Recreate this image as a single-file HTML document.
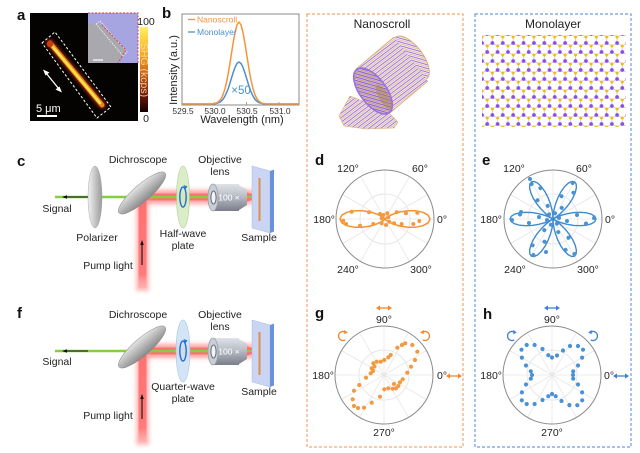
<!DOCTYPE html>
<html><head><meta charset="utf-8"><style>
html,body{margin:0;padding:0;background:#fff;}
svg{display:block;}
text{font-family:"Liberation Sans",Arial,sans-serif;}
</style></head><body>
<svg width="640" height="453" viewBox="0 0 640 453" xmlns="http://www.w3.org/2000/svg">
<defs>
<linearGradient id="cb" x1="0" y1="0" x2="0" y2="1">
<stop offset="0" stop-color="#fff060"/><stop offset=".3" stop-color="#f8b020"/><stop offset=".55" stop-color="#d06010"/><stop offset=".8" stop-color="#701808"/><stop offset="1" stop-color="#100000"/>
</linearGradient>
<linearGradient id="pg" x1="0" y1="0" x2="1" y2="0"><stop offset="0" stop-color="#f2f2f2"/><stop offset="1" stop-color="#9a9a9a"/></linearGradient>
<linearGradient id="mg" x1="0" y1="0" x2="0" y2="1"><stop offset="0" stop-color="#e4e4e4"/><stop offset="1" stop-color="#888"/></linearGradient>
<linearGradient id="og" x1="0" y1="0" x2="0" y2="1"><stop offset="0" stop-color="#dfe2e8"/><stop offset=".5" stop-color="#b4b8c2"/><stop offset="1" stop-color="#7a7e8a"/></linearGradient>
<linearGradient id="vb" x1="0" y1="0" x2="0" y2="1"><stop offset="0" stop-color="#ff7070"/><stop offset=".85" stop-color="#ff7a7a"/><stop offset="1" stop-color="#ff9a9a" stop-opacity="0.3"/></linearGradient>
<filter id="bl" x="-50%" y="-50%" width="200%" height="200%"><feGaussianBlur stdDeviation="2"/></filter>
<filter id="bl1" x="-50%" y="-50%" width="200%" height="200%"><feGaussianBlur stdDeviation="1"/></filter>
<pattern id="scr" patternUnits="userSpaceOnUse" width="3.6" height="3.6" patternTransform="rotate(-37)">
<rect width="3.6" height="3.6" fill="#f1e8f1"/><rect y="0" width="3.6" height="0.9" fill="#9a70dc"/><rect y="1.9" width="3.6" height="0.6" fill="#dcae68"/>
</pattern>
<pattern id="scr2" patternUnits="userSpaceOnUse" width="3.2" height="3.2" patternTransform="rotate(-37)">
<rect width="3.2" height="3.2" fill="#d9c4e2"/><rect width="3.2" height="1" fill="#8a5ad0"/><rect y="1.7" width="3.2" height="0.7" fill="#c0924e"/>
</pattern>
<pattern id="lat" patternUnits="userSpaceOnUse" x="482" y="31" width="10.392" height="18">
<g stroke="#bfb0dc" stroke-width="0.7">
<line x1="0" y1="6" x2="0" y2="12"/><line x1="10.392" y1="6" x2="10.392" y2="12"/>
<line x1="5.196" y1="15" x2="5.196" y2="18"/><line x1="5.196" y1="0" x2="5.196" y2="3"/>
<line x1="5.196" y1="3" x2="0" y2="6"/><line x1="5.196" y1="3" x2="10.392" y2="6"/>
<line x1="0" y1="12" x2="5.196" y2="15"/><line x1="10.392" y1="12" x2="5.196" y2="15"/>
</g>
<circle cx="0" cy="6" r="1.5" fill="#f0c000"/><circle cx="10.392" cy="6" r="1.5" fill="#f0c000"/>
<circle cx="5.196" cy="15" r="1.5" fill="#f0c000"/>
<circle cx="0" cy="12" r="1.9" fill="#8b4fe0"/><circle cx="10.392" cy="12" r="1.9" fill="#8b4fe0"/>
<circle cx="5.196" cy="3" r="1.9" fill="#8b4fe0"/>
</pattern>
<g id="grid">
<circle r="25" fill="none" stroke="#e2e2e2" stroke-width="0.8"/>
<path d="M-49 0H49M0 -49V49M42.4 -24.5L-42.4 24.5M24.5 -42.4L-24.5 42.4M-24.5 -42.4L24.5 42.4M-42.4 -24.5L42.4 24.5" stroke="#e6e6e6" stroke-width="0.8"/>
<circle r="49" fill="none" stroke="#8a8a8a" stroke-width="1"/>
</g>
<path id="petal" fill="none" stroke-linejoin="round" d="M0,0 L0.94,-0.55 L3.75,-1.92 L8.27,-3.66 L14.13,-5.28 L20.77,-6.39 L27.53,-6.73 L33.72,-6.14 L38.68,-4.68 L41.89,-2.53 L43,0 L41.89,2.53 L38.68,4.68 L33.72,6.14 L27.53,6.73 L20.77,6.39 L14.13,5.28 L8.27,3.66 L3.75,1.92 L0.94,0.55 Z"/>
<g id="pp"><circle cx="41" cy="-1" r="2"/><circle cx="33" cy="4.5" r="2"/><circle cx="24" cy="-4" r="2"/><circle cx="14" cy="2" r="2"/><circle cx="6" cy="-1" r="2"/></g>
<g id="dbl"><line x1="-5" y1="0" x2="5" y2="0" stroke="currentColor" stroke-width="1.3"/><polygon points="-8,0 -4,-2.6 -4,2.6" fill="currentColor"/><polygon points="8,0 4,-2.6 4,2.6" fill="currentColor"/></g>
<g id="circ"><path d="M2.3,-3.9 A4.5,4.5 0 1 0 2.3,3.9" fill="none" stroke="currentColor" stroke-width="1.3"/><polygon points="4.8,-3.6 1.2,-6 1.4,-1.6" fill="currentColor"/></g>

<g id="setup">
<rect x="140" y="190" width="113" height="14" fill="#ff9090" filter="url(#bl)" opacity="0.8"/>
<rect x="140" y="193.5" width="113" height="7" fill="#ff7070"/>
<rect x="136" y="195" width="13" height="96" fill="#ff9a9a" filter="url(#bl)" opacity="0.7"/>
<rect x="138.5" y="195" width="8" height="93" fill="url(#vb)"/>
<line x1="55" y1="197" x2="212" y2="197" stroke="#84cf3e" stroke-width="2.6"/>
<line x1="88" y1="197" x2="66" y2="197" stroke="#111" stroke-width="1.1"/>
<polygon points="62,197 67,195.2 67,198.8" fill="#111"/>
<line x1="142" y1="265" x2="142" y2="245" stroke="#111" stroke-width="1.1"/>
<polygon points="142,240 140.2,245 143.8,245" fill="#111"/>
<ellipse cx="142" cy="193" rx="30.5" ry="8.5" transform="rotate(-41 142 193)" fill="url(#mg)" stroke="#8a8a8a" stroke-width="0.5"/>
<rect x="213" y="184" width="26" height="27" fill="url(#og)"/>
<path d="M239,185 L247,189.5 L247,205 L239,210 Z" fill="url(#og)"/>
<ellipse cx="213" cy="197.5" rx="5" ry="13.5" fill="#c9cdd5" stroke="#9aa0aa" stroke-width="0.8"/>
<ellipse cx="213.5" cy="197.5" rx="2.6" ry="6.5" fill="#f4f4f6" stroke="#6e7280" stroke-width="1.1"/>
<text x="229" y="200.5" font-size="8.5" fill="#fff" text-anchor="middle">100 ×</text>
<polygon points="247,192.5 258,196 258,198 247,201.5" fill="#ff7070"/>
<line x1="247" y1="197" x2="258" y2="197" stroke="#84cf3e" stroke-width="2"/>
<polygon points="252,166 270,171 270,233 252,228" fill="#c9d5f2" stroke="#a9b9e0" stroke-width="0.5"/>
<polygon points="270,171 274,169.5 274,231.5 270,233" fill="#6a92da"/>
<line x1="259.5" y1="178" x2="259.5" y2="221" stroke="#e08c4c" stroke-width="2"/>
</g>
</defs>
<rect width="640" height="453" fill="#fff"/>

<!-- dashed boxes -->
<rect x="307" y="14" width="156" height="433" fill="none" stroke="#f4a675" stroke-width="1.2" stroke-dasharray="3,2"/>
<rect x="475" y="14" width="156" height="433" fill="none" stroke="#6f9be0" stroke-width="1.2" stroke-dasharray="3,2"/>

<!-- panel a -->
<text x="17" y="20" font-size="15" font-weight="bold" fill="#111">a</text>
<rect x="30" y="13" width="108" height="108" fill="#050202"/>
<g stroke-linecap="round">
<line x1="50" y1="43" x2="102" y2="105" stroke="#8a2008" stroke-width="9" opacity="0.7" filter="url(#bl1)"/>
<line x1="50" y1="43" x2="102" y2="105" stroke="#e88418" stroke-width="5"/>
<line x1="53" y1="47" x2="100" y2="103" stroke="#ffe24a" stroke-width="2.6"/>
<circle cx="50" cy="44" r="3.2" fill="#c84010"/>
</g>
<polygon points="42,43 55,32 111,107 97,118" fill="none" stroke="#fff" stroke-width="1" stroke-dasharray="2.5,2"/>
<line x1="46" y1="73" x2="59" y2="89" stroke="#fff" stroke-width="1.3"/>
<polygon points="43,69.5 49.5,72.5 45.5,75.5" fill="#fff"/>
<polygon points="62,92.5 55.5,89.5 59.5,86.5" fill="#fff"/>
<text x="36" y="112" font-size="11" fill="#fff">5 μm</text>
<rect x="37" y="115" width="20" height="2" fill="#fff"/>
<rect x="88" y="13" width="50" height="50" fill="#a7a4e2"/>
<polygon points="88,24 100,23 126,50 118,63 88,63" fill="#a8a8ae"/>
<polygon points="96,24 100,21 127,52 123,56" fill="none" stroke="#fff" stroke-width="0.7" stroke-dasharray="1.5,1"/>
<polyline points="88,13 138,13 138,63" fill="none" stroke="#e03030" stroke-width="0.9" stroke-dasharray="2,1.5"/>
<polyline points="102,25 126,50 118,63" fill="none" stroke="#e03030" stroke-width="0.9" stroke-dasharray="2,1.5"/>
<line x1="93" y1="60" x2="103" y2="60" stroke="#fff" stroke-width="1.2"/>
<rect x="140" y="27" width="8" height="85" fill="url(#cb)"/>
<text x="146" y="25" font-size="10.5" fill="#222" text-anchor="middle">100</text>
<text x="146" y="122" font-size="10.5" fill="#222" text-anchor="middle">0</text>
<text transform="translate(141,70) rotate(90)" font-size="10.5" fill="#f6dcb8" text-anchor="middle" opacity="0.9">SHG (kcps)</text>

<!-- panel b -->
<text x="162" y="18" font-size="15" font-weight="bold" fill="#111">b</text>
<rect x="182" y="14" width="117" height="91" fill="none" stroke="#8a8a8a" stroke-width="1"/>
<g stroke="#8a8a8a" stroke-width="0.8">
<line x1="214.3" y1="105" x2="214.3" y2="102"/><line x1="246.6" y1="105" x2="246.6" y2="102"/><line x1="278.9" y1="105" x2="278.9" y2="102"/>
</g>
<polyline fill="none" stroke="#4a8fd2" stroke-width="1.5" stroke-linejoin="round" points="182,104 213,103.9 215,103.7 217,103.3 219,102.6 221,101.4 223,99.3 225,96.1 227,91.7 229,86.2 231,79.7 233,73.1 235,67.4 237,63.4 239,62 241,63.4 243,67.4 245,73.1 247,79.7 249,86.2 251,91.7 253,96.1 255,99.3 257,101.4 259,102.6 261,103.3 263,103.7 265,103.9 299,104"/>
<polyline fill="none" stroke="#f5953a" stroke-width="1.5" stroke-linejoin="round" points="182,104 211,103.9 213,103.7 215,103.4 217,102.7 219,101.3 221,98.9 223,94.8 225,88.7 227,80.1 229,69.1 231,56.5 233,43.7 235,32.5 237,24.8 239,22 241,24.8 243,32.5 245,43.7 247,56.5 249,69.1 251,80.1 253,88.7 255,94.8 257,98.9 259,101.3 261,102.7 263,103.4 265,103.7 267,103.9 299,104"/>
<line x1="188" y1="19.5" x2="195" y2="19.5" stroke="#f5953a" stroke-width="1.3"/>
<text x="197" y="22.5" font-size="8.5" fill="#f5953a">Nanoscroll</text>
<line x1="188" y1="32" x2="195" y2="32" stroke="#4a8fd2" stroke-width="1.3"/>
<text x="197" y="35" font-size="8.5" fill="#4a8fd2">Monolayer</text>
<text x="241" y="94" font-size="11.5" fill="#4a8fd2" text-anchor="middle">×50</text>
<g font-size="8.5" fill="#333" text-anchor="middle">
<text x="183" y="114">529.5</text><text x="215" y="114">530.0</text><text x="247" y="114">530.5</text><text x="280" y="114">531.0</text>
</g>
<text x="242" y="123" font-size="11" fill="#222" text-anchor="middle">Wavelength (nm)</text>
<text transform="translate(177,70) rotate(-90)" font-size="11" fill="#222" text-anchor="middle">Intensity (a.u.)</text>

<!-- titles -->
<text x="382" y="28" font-size="12" fill="#222" text-anchor="middle">Nanoscroll</text>
<text x="553" y="28" font-size="12" fill="#222" text-anchor="middle">Monolayer</text>

<!-- nanoscroll -->
<g>
<polygon points="350,96 386,110 398,122 394,128 366,129 344,126 339,116" fill="url(#scr)" stroke="#e0b070" stroke-width="0.6"/>
<ellipse cx="411" cy="58" rx="26" ry="12" transform="rotate(53 411 58)" fill="url(#scr)" stroke="#d9a86a" stroke-width="0.8"/>
<polygon points="356,69 394,37 428,81 390,113" fill="url(#scr)"/>
<line x1="394" y1="37" x2="356" y2="69" stroke="#d9a86a" stroke-width="0.8"/>
<line x1="428" y1="81" x2="390" y2="113" stroke="#d9a86a" stroke-width="0.8"/>
<ellipse cx="373" cy="91" rx="27" ry="13" transform="rotate(53 373 91)" fill="url(#scr2)" stroke="#9a70e0" stroke-width="1.6"/>
<ellipse cx="384" cy="97" rx="14" ry="5" transform="rotate(60 384 97)" fill="#a98050" opacity="0.45"/>
</g>

<!-- monolayer -->
<rect x="482" y="35" width="144" height="92" fill="url(#lat)"/>

<!-- panel c -->
<text x="17" y="166" font-size="15" font-weight="bold" fill="#111">c</text>
<use href="#setup"/>
<ellipse cx="95" cy="197" rx="7" ry="31" fill="url(#pg)" stroke="#999" stroke-width="0.4"/>
<ellipse cx="183" cy="197" rx="6.5" ry="31" fill="#d7ecc4" stroke="#a9cc8c" stroke-width="0.6" opacity="0.92"/>
<ellipse cx="183" cy="197" rx="3.2" ry="10" fill="none" stroke="#1f6fd0" stroke-width="1.4"/>
<polygon points="185.5,189 183.5,185 187.5,186.5" fill="#1f6fd0"/>
<g font-size="10.5" fill="#222" text-anchor="middle">
<text x="138" y="163">Dichroscope</text>
<text x="220" y="163">Objective</text><text x="220" y="175">lens</text>
<text x="57" y="212">Signal</text>
<text x="97" y="241">Polarizer</text>
<text x="183" y="237">Half-wave</text><text x="183" y="249">plate</text>
<text x="259" y="241">Sample</text>
<text x="108" y="269">Pump light</text>
</g>

<!-- panel f -->
<text x="17" y="318" font-size="15" font-weight="bold" fill="#111">f</text>
<use href="#setup" transform="translate(0,154)"/>
<ellipse cx="183" cy="351" rx="7" ry="31" fill="#cfe2f5" stroke="#9fc0e4" stroke-width="0.6" opacity="0.92"/>
<ellipse cx="183" cy="351" rx="3.2" ry="10" fill="none" stroke="#1f6fd0" stroke-width="1.4"/>
<polygon points="185.5,343 183.5,339 187.5,340.5" fill="#1f6fd0"/>
<g font-size="10.5" fill="#222" text-anchor="middle">
<text x="138" y="318">Dichroscope</text>
<text x="220" y="318">Objective</text><text x="220" y="330">lens</text>
<text x="57" y="365">Signal</text>
<text x="183" y="390">Quarter-wave</text><text x="183" y="402">plate</text>
<text x="259" y="395">Sample</text>
<text x="108" y="419">Pump light</text>
</g>

<!-- panel d -->
<text x="315" y="165" font-size="15" font-weight="bold" fill="#111">d</text>
<use href="#grid" transform="translate(385,219)"/>
<g transform="translate(385,219)">
<path fill="none" stroke="#f5932e" stroke-width="1.5" stroke-linejoin="round" d="M0,0 L1,-1 L2.4,-2 L5,-3.5 L9.25,-5.3 L15.25,-7.1 L22.7,-8.3 L30.7,-8.2 L38,-6.7 L43.2,-3.8 L45,0 L43.2,3.8 L38,6.7 L30.7,8.2 L22.7,8.3 L15.25,7.1 L9.25,5.3 L5,3.5 L2.4,2 L1,1 Z M0,0 L-1,-1 L-2.4,-2 L-5,-3.5 L-9.25,-5.3 L-15.25,-7.1 L-22.7,-8.3 L-30.7,-8.2 L-38,-6.7 L-43.2,-3.8 L-45,0 L-43.2,3.8 L-38,6.7 L-30.7,8.2 L-22.7,8.3 L-15.25,7.1 L-9.25,5.3 L-5,3.5 L-2.4,2 L-1,1 Z"/>
<g fill="#f39a3e">
<circle cx="-33.3" cy="-7.3" r="2"/><circle cx="-16" cy="-6.7" r="2"/><circle cx="-41.7" cy="1.7" r="2"/><circle cx="-39" cy="5" r="2"/>
<circle cx="-25" cy="6.7" r="2"/><circle cx="-11.7" cy="5" r="2"/><circle cx="-5" cy="-5" r="2"/><circle cx="-1.7" cy="-4" r="2"/>
<circle cx="2.3" cy="-5.7" r="2"/><circle cx="-3.3" cy="4.3" r="2"/><circle cx="1" cy="6" r="2"/><circle cx="4.3" cy="2.7" r="2"/>
<circle cx="11.7" cy="-6.7" r="2"/><circle cx="21" cy="-5.7" r="2"/><circle cx="32.3" cy="-6.3" r="2"/><circle cx="34.3" cy="2" r="2"/>
<circle cx="28.3" cy="5" r="2"/><circle cx="16.7" cy="5" r="2"/><circle cx="9" cy="4.3" r="2"/><circle cx="-3.3" cy="-0.7" r="2"/><circle cx="3.3" cy="-1.7" r="2"/>
</g>
</g>
<g font-size="10.5" fill="#222">
<text x="348" y="172" text-anchor="middle">120°</text><text x="420" y="172" text-anchor="middle">60°</text>
<text x="335" y="223" text-anchor="end">180°</text><text x="437" y="223">0°</text>
<text x="348" y="273" text-anchor="middle">240°</text><text x="421" y="273" text-anchor="middle">300°</text>
</g>

<!-- panel e -->
<text x="482" y="165" font-size="15" font-weight="bold" fill="#111">e</text>
<use href="#grid" transform="translate(553,219)"/>
<g stroke="#3d8bd0" stroke-width="1.4">
<use href="#petal" transform="translate(553,219)"/>
<use href="#petal" transform="translate(553,219) rotate(-60)"/>
<use href="#petal" transform="translate(553,219) rotate(-120)"/>
<use href="#petal" transform="translate(553,219) rotate(-180)"/>
<use href="#petal" transform="translate(553,219) rotate(-240)"/>
<use href="#petal" transform="translate(553,219) rotate(-300)"/>
</g>
<g fill="#4a92d4">
<use href="#pp" transform="translate(553,219)"/>
<use href="#pp" transform="translate(553,219) rotate(-60)"/>
<use href="#pp" transform="translate(553,219) rotate(-120)"/>
<use href="#pp" transform="translate(553,219) rotate(-180)"/>
<use href="#pp" transform="translate(553,219) rotate(-240)"/>
<use href="#pp" transform="translate(553,219) rotate(-300)"/>
<circle cx="530" cy="179" r="2"/><circle cx="521" cy="212" r="2"/><circle cx="546" cy="252" r="2"/>
</g>
<g font-size="10.5" fill="#222">
<text x="514" y="172" text-anchor="middle">120°</text><text x="584" y="172" text-anchor="middle">60°</text>
<text x="502" y="223" text-anchor="end">180°</text><text x="605" y="223">0°</text>
<text x="515" y="273" text-anchor="middle">240°</text><text x="588" y="273" text-anchor="middle">300°</text>
</g>

<!-- panel g -->
<text x="315" y="318" font-size="15" font-weight="bold" fill="#111">g</text>
<use href="#grid" transform="translate(384,375)"/>
<g transform="translate(384,375)" fill="#f39a3e">
<circle cx="6.7" cy="-20" r="2.1"/><circle cx="13.3" cy="-27.3" r="2.1"/><circle cx="21.3" cy="-31.7" r="2.1"/><circle cx="28.3" cy="-30" r="2.1"/>
<circle cx="33.3" cy="-23.3" r="2.1"/><circle cx="31" cy="-15" r="2.1"/><circle cx="27" cy="-8.3" r="2.1"/><circle cx="23.3" cy="-2.3" r="2.1"/>
<circle cx="18.7" cy="4.3" r="2.1"/><circle cx="16" cy="7.3" r="2.1"/><circle cx="14.3" cy="11" r="2.1"/><circle cx="12" cy="13.3" r="2.1"/>
<circle cx="8.7" cy="13.7" r="2.1"/><circle cx="4.3" cy="13.3" r="2.1"/><circle cx="0.3" cy="14.3" r="2.1"/><circle cx="-4" cy="21.7" r="2.1"/>
<circle cx="-12.3" cy="27.7" r="2.1"/><circle cx="-20" cy="32.7" r="2.1"/><circle cx="-30" cy="31" r="2.1"/><circle cx="-31.3" cy="24.3" r="2.1"/>
<circle cx="-30" cy="15.7" r="2.1"/><circle cx="-24.7" cy="10" r="2.1"/><circle cx="-18" cy="2.7" r="2.1"/><circle cx="-13.3" cy="-1.7" r="2.1"/>
<circle cx="-12.3" cy="-6.7" r="2.1"/><circle cx="-10.7" cy="-11.7" r="2.1"/><circle cx="-7.3" cy="-13.3" r="2.1"/><circle cx="-3.3" cy="-13.3" r="2.1"/>
<circle cx="0.3" cy="-15" r="2.1"/><circle cx="4.3" cy="-17.7" r="2.1"/><circle cx="-9.5" cy="-8.5" r="2.1"/><circle cx="-11" cy="-4" r="2.1"/>
<circle cx="10" cy="9" r="2.1"/><circle cx="-26" cy="33" r="2.1"/><circle cx="18" cy="-30" r="2.1"/>
</g>
<g font-size="10.5" fill="#222">
<text x="384" y="323" text-anchor="middle">90°</text>
<text x="334" y="379" text-anchor="end">180°</text><text x="437" y="379">0°</text>
<text x="384" y="436" text-anchor="middle">270°</text>
</g>
<g color="#f5862a">
<use href="#dbl" transform="translate(384,308)"/>
<use href="#dbl" transform="translate(454,376)"/>
<use href="#circ" transform="translate(343,336)"/>
<use href="#circ" transform="translate(425,336) scale(-1,1)"/>
</g>

<!-- panel h -->
<text x="483" y="319" font-size="15" font-weight="bold" fill="#111">h</text>
<use href="#grid" transform="translate(552,375)"/>
<g transform="translate(552,375)" fill="#4a92d4">
<circle cx="21" cy="0" r="2.1"/><circle cx="21.2" cy="-3.7" r="2.1"/><circle cx="26" cy="-9.5" r="2.1"/><circle cx="30.1" cy="-17.4" r="2.1"/>
<circle cx="31" cy="-25.3" r="2.1"/><circle cx="26" cy="-29" r="2.1"/><circle cx="18" cy="-29" r="2.1"/><circle cx="11" cy="-24.5" r="2.1"/>
<circle cx="5" cy="-19.5" r="2.1"/><circle cx="0" cy="-17.5" r="2.1"/>
<circle cx="-3.7" cy="-19.8" r="2.1"/><circle cx="-9.5" cy="-26" r="2.1"/><circle cx="-17.4" cy="-30" r="2.1"/><circle cx="-25.3" cy="-30" r="2.1"/>
<circle cx="-30.5" cy="-25.3" r="2.1"/><circle cx="-30.1" cy="-17.4" r="2.1"/><circle cx="-26" cy="-9.5" r="2.1"/><circle cx="-21.2" cy="-3.7" r="2.1"/>
<circle cx="-20" cy="0" r="2.1"/><circle cx="-21.2" cy="3.7" r="2.1"/><circle cx="-26" cy="9.5" r="2.1"/><circle cx="-30.1" cy="17.4" r="2.1"/>
<circle cx="-30.2" cy="25.3" r="2.1"/><circle cx="-25.3" cy="29" r="2.1"/><circle cx="-17.4" cy="29" r="2.1"/><circle cx="-9.5" cy="25" r="2.1"/>
<circle cx="-3.7" cy="21.2" r="2.1"/><circle cx="0" cy="19" r="2.1"/><circle cx="3.7" cy="21.2" r="2.1"/><circle cx="9.5" cy="26" r="2.1"/>
<circle cx="17.4" cy="30.1" r="2.1"/><circle cx="25.3" cy="30.2" r="2.1"/><circle cx="30.2" cy="25.3" r="2.1"/><circle cx="30.1" cy="17.4" r="2.1"/>
<circle cx="26" cy="9.5" r="2.1"/><circle cx="21.2" cy="3.7" r="2.1"/>
</g>
<g font-size="10.5" fill="#222">
<text x="552" y="323" text-anchor="middle">90°</text>
<text x="502" y="379" text-anchor="end">180°</text><text x="604" y="379">0°</text>
<text x="552" y="436" text-anchor="middle">270°</text>
</g>
<g color="#3f7fd6">
<use href="#dbl" transform="translate(552,308)"/>
<use href="#dbl" transform="translate(621,376)"/>
<use href="#circ" transform="translate(512,336)"/>
<use href="#circ" transform="translate(593,336) scale(-1,1)"/>
</g>
</svg>
</body></html>
